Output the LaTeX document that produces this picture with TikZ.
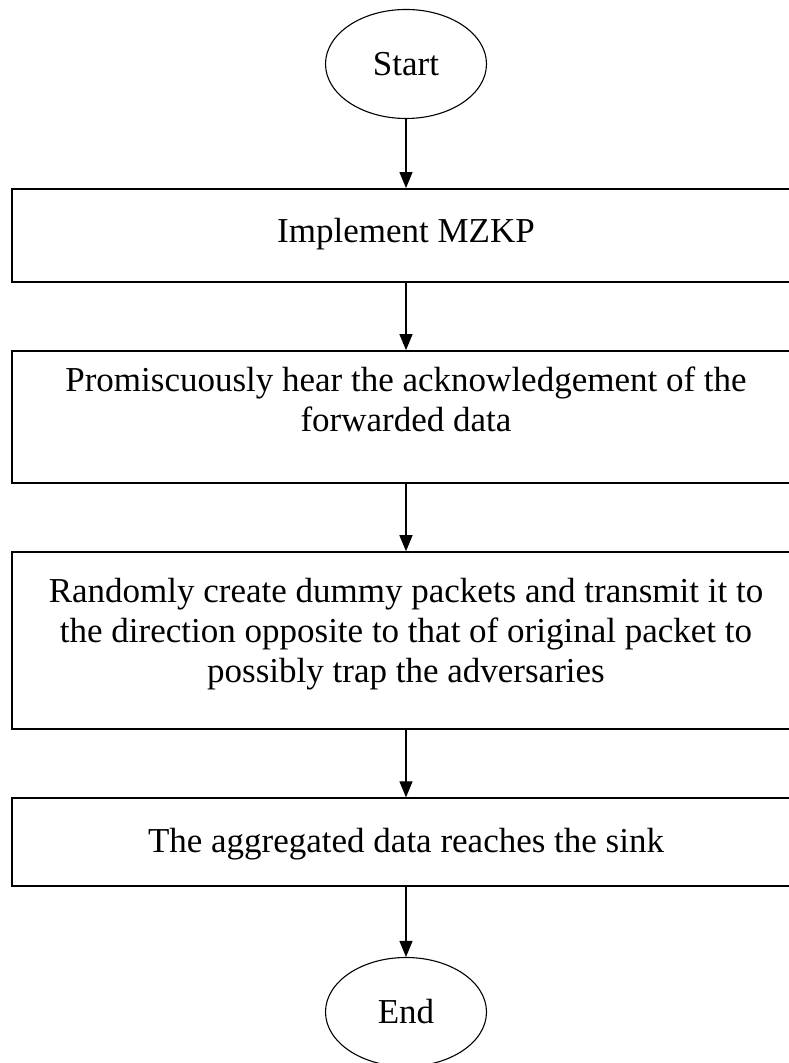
\documentclass[tikz,border=0pt]{standalone}
\usepackage{fontspec}
\setmainfont{Liberation Serif}
\usetikzlibrary{positioning,shapes.geometric,arrows.meta}
\tikzset{
  term/.style={ellipse,draw,line width=1.1pt,minimum width=161pt,minimum height=109pt,inner sep=0pt},
  procbox/.style={rectangle,draw,line width=1.6pt,minimum width=788pt,align=center,inner sep=0pt},
  flow/.style={-{Triangle[length=16pt,width=13pt]},line width=1.2pt}
}
\begin{document}
\begin{tikzpicture}[x=1pt,y=1pt,node distance=67.5pt,font=\fontsize{35}{40}\selectfont]
\useasboundingbox (0,0) rectangle (789,1063);
\clip (0,0) rectangle (789,1063);
\node[term] (start) at (406,999) {Start};
\node[procbox,text height=54pt,text depth=39pt,below=69pt of start] (mzkp) {Implement MZKP};
\node[procbox,text height=81pt,text depth=51pt,below=of mzkp] (hear) {Promiscuously hear the acknowledgement of the\\ forwarded data};
\node[procbox,text height=130pt,text depth=47pt,below=of hear] (dummy) {Randomly create dummy packets and transmit it to\\ the direction opposite to that of original packet to\\ possibly trap the adversaries};
\node[procbox,text height=54pt,text depth=34pt,below=of dummy] (sink) {The aggregated data reaches the sink};
\node[term,below=70pt of sink] (end) {End};
\draw[flow] (start) -- (mzkp);
\draw[flow] (mzkp) -- (hear);
\draw[flow] (hear) -- (dummy);
\draw[flow] (dummy) -- (sink);
\draw[flow] (sink) -- (end);
\end{tikzpicture}
\end{document}
